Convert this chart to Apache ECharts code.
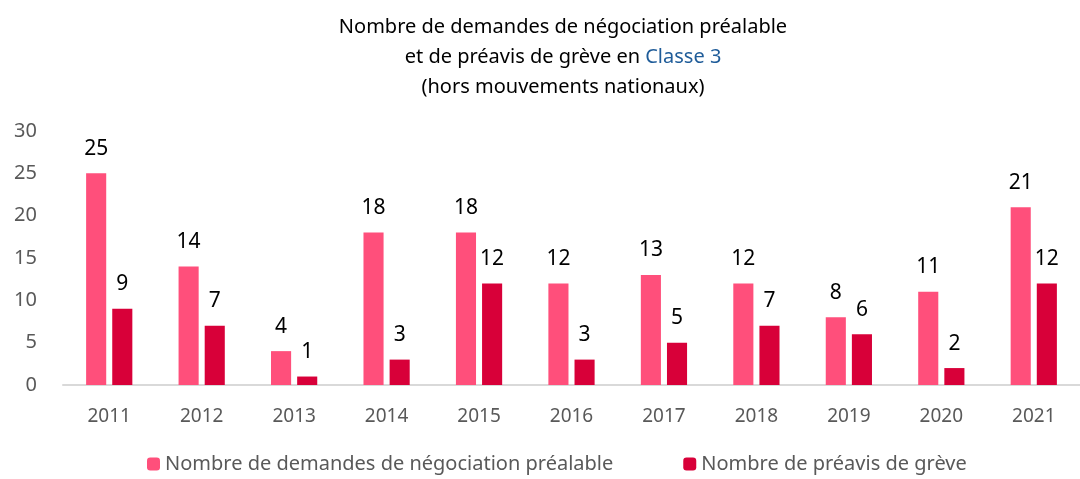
<!DOCTYPE html>
<html>
<head>
<meta charset="utf-8">
<script src="https://cdn.jsdelivr.net/npm/echarts@6/dist/echarts.min.js"></script>
<style>
  html, body { margin: 0; padding: 0; background: #fff; }
  #chart { width: 1080px; height: 479px; }
</style>
</head>
<body>
<div id="chart"></div>
<script>
const years = ['2011', '2012', '2013', '2014', '2015', '2016', '2017', '2018', '2019', '2020', '2021']
const demandes = [25, 14, 4, 18, 18, 12, 13, 12, 8, 11, 21]
const preavis = [9, 7, 1, 3, 12, 3, 5, 7, 6, 2, 12]
const yTicks = [0, 5, 10, 15, 20, 25, 30]

const font = 'Noto Sans, sans-serif'

let myChart = echarts.init(document.getElementById('chart'))
let labelStyle = {
   show: true,
   position: 'top',
   distance: 14,
   color: '#000',
   fontSize: 21,
   fontFamily: font
}
let option = {
   animation: false,
   title: {
      text: 'Nombre de demandes de négociation préalable\net de préavis de grève en {b|Classe 3}\n(hors mouvements nationaux)',
      left: 558,
      textAlign: 'center',
      top: 7,
      textStyle: {
         color: '#000',
         fontSize: 20,
         fontWeight: 'normal',
         fontFamily: font,
         lineHeight: 30,
         rich: {
            b: { color: '#1f5c99', fontSize: 20, fontFamily: font, lineHeight: 30 }
         }
      }
   },
   legend: {
      bottom: 0,
      left: 142,
      itemWidth: 13,
      itemHeight: 13,
      itemGap: 70,
      textStyle: { color: '#595959', fontSize: 20, fontFamily: font },
      data: ['Nombre de demandes de négociation préalable', 'Nombre de préavis de grève']
   },
   grid: {
      left: 63,
      width: 1031,
      top: 131,
      bottom: 94
   },
   xAxis: {
      type: 'category',
      data: years,
      axisLine: { lineStyle: { color: '#d9d9d9', width: 2 } },
      axisTick: { show: false },
      axisLabel: { color: '#595959', fontSize: 19, fontFamily: font, margin: 22 }
   },
   yAxis: {
      type: 'value',
      min: yTicks[0],
      max: yTicks[yTicks.length - 1],
      interval: 5,
      splitLine: { show: false },
      axisLine: { show: false },
      axisTick: { show: false },
      axisLabel: { color: '#595959', fontSize: 20, fontFamily: font, margin: 26 }
   },
   series: [
      {
         name: 'Nombre de demandes de négociation préalable',
         type: 'bar',
         data: demandes,
         barGap: '30%',
         barCategoryGap: '50%',
         itemStyle: { color: '#ff4f7b' },
         label: labelStyle
      },
      {
         name: 'Nombre de préavis de grève',
         type: 'bar',
         data: preavis,
         itemStyle: { color: '#d80039' },
         label: labelStyle
      }
   ]
}
myChart.setOption(option)
</script>
</body>
</html>
